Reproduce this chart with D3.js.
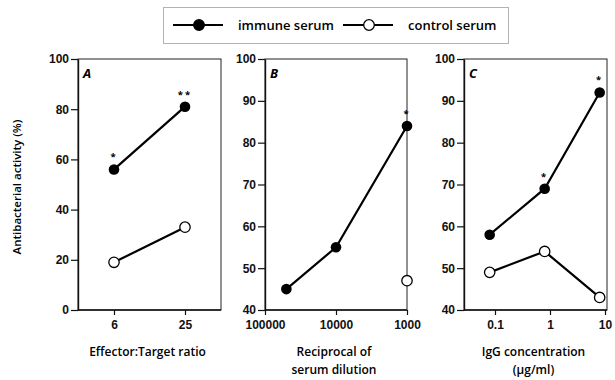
<!DOCTYPE html>
<html>
<head>
<meta charset="utf-8">
<script src="https://cdn.jsdelivr.net/npm/d3@7"></script>
<style>
  body { margin: 0; background: #fff; }
  svg { font-family: "Open Sans", "DejaVu Sans", sans-serif; }
  .tick text { font-size: 12px; font-weight: 700; fill: #111; }
  .tick line { stroke: #111; stroke-width: 1.2; }
</style>
</head>
<body>
<svg id="chart" width="615" height="380"></svg>
<script>
// panel A: effector:target ratio
const ratioCats = ["6", "25"];
const immuneA = [56, 81];
const controlA = [19, 33];
const starsA = ["*", "**"];
const yTicksA = [0, 20, 40, 60, 80, 100];

// panel B: reciprocal of serum dilution
const dilutionsB = [50000, 10000, 1000];
const immuneB = [45, 55, 84];
const controlDilB = [1000];
const controlB = [47];
const starsB = ["", "", "*"];
const xTicksB = [100000, 10000, 1000];

// panel C: IgG concentration (ug/ml)
const iggC = [0.08, 0.8, 8];
const immuneC = [58, 69, 92];
const controlC = [49, 54, 43];
const starsC = ["", "*", "*"];
const xTicksC = [0.1, 1, 10];

const yTicksBC = [40, 50, 60, 70, 80, 90, 100];

const svg = d3.select("#chart");
const plotTop = 59, plotBottom = 310;

const panels = [
  {
    letter: "A", x0: 78, x1: 221,
    x: d3.scalePoint().domain(ratioCats).range([114, 185]),
    y: d3.scaleLinear().domain([0, 100]).range([plotBottom, plotTop]),
    xTicks: ratioCats, yTicks: yTicksA, fmt: d => d,
    immune: ratioCats.map((c, i) => ({ x: c, y: immuneA[i], s: starsA[i] })),
    control: ratioCats.map((c, i) => ({ x: c, y: controlA[i] })),
    title: ["Effector:Target ratio"]
  },
  {
    letter: "B", x0: 265, x1: 407,
    x: d3.scaleLog().domain([100000, 1000]).range([265, 407]),
    y: d3.scaleLinear().domain([40, 100]).range([plotBottom, plotTop]),
    xTicks: xTicksB, yTicks: yTicksBC, fmt: d => String(d),
    immune: dilutionsB.map((c, i) => ({ x: c, y: immuneB[i], s: starsB[i] })),
    control: controlDilB.map((c, i) => ({ x: c, y: controlB[i] })),
    title: ["Reciprocal of", "serum dilution"]
  },
  {
    letter: "C", x0: 464, x1: 607,
    x: d3.scaleLog().domain([0.1, 10]).range([495, 605]),
    y: d3.scaleLinear().domain([40, 100]).range([plotBottom, plotTop]),
    xTicks: xTicksC, yTicks: yTicksBC, fmt: d => String(d),
    immune: iggC.map((c, i) => ({ x: c, y: immuneC[i], s: starsC[i] })),
    control: iggC.map((c, i) => ({ x: c, y: controlC[i] })),
    title: ["IgG concentration", "(\u00b5g/ml)"]
  }
];

panels.forEach(p => {
  const g = svg.append("g");

  // frame (top and right)
  g.append("rect")
    .attr("x", p.x0).attr("y", plotTop)
    .attr("width", p.x1 - p.x0).attr("height", plotBottom - plotTop)
    .attr("fill", "none").attr("stroke", "#222").attr("stroke-width", 1);

  // y axis
  const ya = g.append("g")
    .attr("transform", `translate(${p.x0},0)`)
    .call(d3.axisLeft(p.y).tickValues(p.yTicks).tickSize(7).tickPadding(2).tickSizeOuter(0));
  ya.select(".domain").attr("stroke", "#111").attr("stroke-width", 1.4);

  // x axis
  const xa = g.append("g")
    .attr("transform", `translate(0,${plotBottom})`)
    .call(d3.axisBottom(p.x).tickValues(p.xTicks).tickFormat(p.fmt).tickSize(5).tickPadding(5).tickSizeOuter(0));
  xa.select(".domain").remove();
  g.append("line")
    .attr("x1", p.x0).attr("x2", p.x1).attr("y1", plotBottom).attr("y2", plotBottom)
    .attr("stroke", "#111").attr("stroke-width", 1.4);

  // panel letter
  g.append("text")
    .attr("x", p.x0 + 5).attr("y", plotTop + 19)
    .attr("font-size", 13).attr("font-weight", 700).attr("font-style", "italic")
    .text(p.letter);

  const line = d3.line().x(d => p.x(d.x)).y(d => p.y(d.y));

  g.append("path").datum(p.immune)
    .attr("d", line).attr("fill", "none").attr("stroke", "#000").attr("stroke-width", 2.2);
  if (p.control.length > 1) {
    g.append("path").datum(p.control)
      .attr("d", line).attr("fill", "none").attr("stroke", "#000").attr("stroke-width", 2.2);
  }

  g.selectAll(".imm").data(p.immune).join("circle")
    .attr("cx", d => p.x(d.x)).attr("cy", d => p.y(d.y)).attr("r", 5.3)
    .attr("fill", "#000");
  g.selectAll(".ctl").data(p.control).join("circle")
    .attr("cx", d => p.x(d.x)).attr("cy", d => p.y(d.y)).attr("r", 5.2)
    .attr("fill", "#fff").attr("stroke", "#000").attr("stroke-width", 1.3);

  // significance stars
  g.selectAll(".star").data(p.immune.filter(d => d.s)).join("text")
    .attr("x", d => p.x(d.x)).attr("y", d => p.y(d.y) - 9)
    .attr("text-anchor", "middle").attr("font-size", 9.5).attr("font-weight", 700)
    .attr("letter-spacing", 2)
    .text(d => d.s);

  // x title
  p.title.forEach((t, i) => {
    g.append("text")
      .attr("x", (p.x0 + p.x1) / 2 - 2).attr("y", 356 + i * 18)
      .attr("text-anchor", "middle").attr("font-size", 12).attr("font-weight", 600)
      .text(t);
  });
});

// y axis title
svg.append("text")
  .attr("transform", "translate(21,187) rotate(-90)")
  .attr("text-anchor", "middle").attr("font-size", 11.5).attr("font-weight", 600)
  .text("Antibacterial activity (%)");

// legend
const lg = svg.append("g");
lg.append("rect")
  .attr("x", 163.5).attr("y", 7.5).attr("width", 345).attr("height", 36)
  .attr("fill", "none").attr("stroke", "#666").attr("stroke-width", 1)
  .attr("stroke-dasharray", "1,1");
const legendItems = [
  { label: "immune serum", fill: "#000", x: 173 },
  { label: "control serum", fill: "#fff", x: 343 }
];
legendItems.forEach(it => {
  lg.append("line").attr("x1", it.x).attr("x2", it.x + 50).attr("y1", 25).attr("y2", 25)
    .attr("stroke", "#000").attr("stroke-width", 2);
  lg.append("circle").attr("cx", it.x + 26).attr("cy", 25).attr("r", 5.3)
    .attr("fill", it.fill).attr("stroke", "#000").attr("stroke-width", 1.3);
  lg.append("text").attr("x", it.x + 65).attr("y", 29.5)
    .attr("font-size", 13).attr("font-weight", 600).text(it.label);
});
</script>
</body>
</html>
